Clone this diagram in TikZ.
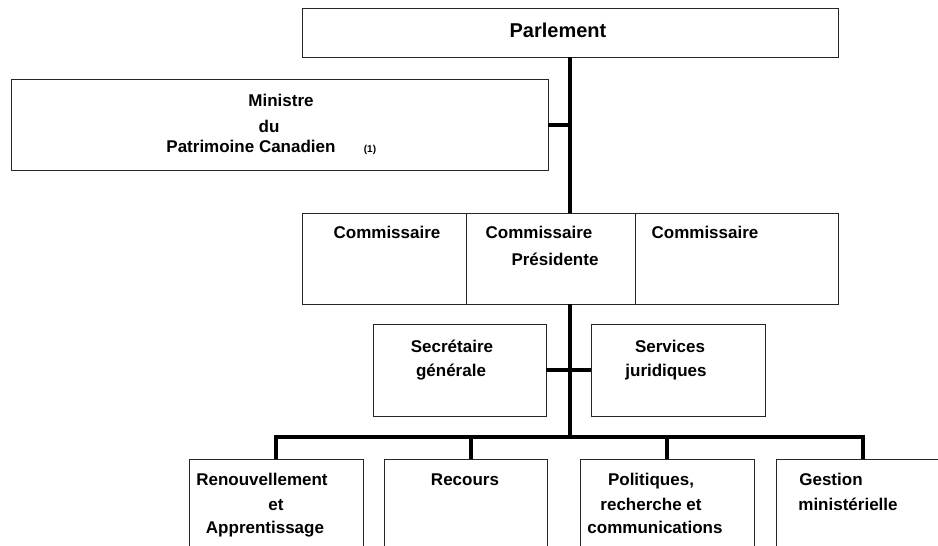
\documentclass[tikz,border=0pt]{standalone}
\usepackage{fontspec}
\setmainfont{Liberation Sans}
\begin{document}
\begin{tikzpicture}[x=1pt,y=-1pt,
  box/.style={draw=black!85, line width=1pt, inner sep=0pt, outer sep=0pt, anchor=north west},
  conn/.style={draw=black, line width=4pt},
  lbl/.style={font=\fontsize{17}{20}\selectfont\bfseries, anchor=base, inner sep=0pt},
  big/.style={font=\fontsize{20}{24}\selectfont\bfseries, anchor=base, inner sep=0pt},
  tiny/.style={font=\fontsize{10}{12}\selectfont\bfseries, anchor=base, inner sep=0pt}]
\useasboundingbox (0,0) rectangle (938,546);
\clip (0,0) rectangle (938,546);
\fill[white] (0,0) rectangle (938,546);
% boxes
\node[box, minimum width=536pt, minimum height=49pt] (parl) at (302,8) {};
\node[box, minimum width=537pt, minimum height=91pt] (min) at (11,79) {};
\node[box, minimum width=164pt, minimum height=91pt] (c1) at (302,213) {};
\node[box, minimum width=169pt, minimum height=91pt] (c2) at (466,213) {};
\node[box, minimum width=203pt, minimum height=91pt] (c3) at (635,213) {};
\node[box, minimum width=173pt, minimum height=92pt] (sec) at (373,324) {};
\node[box, minimum width=174pt, minimum height=92pt] (serv) at (591,324) {};
\node[box, minimum width=174pt, minimum height=110pt] (b1) at (189,459) {};
\node[box, minimum width=163pt, minimum height=110pt] (b2) at (384,459) {};
\node[box, minimum width=174pt, minimum height=110pt] (b3) at (580,459) {};
\node[box, minimum width=174pt, minimum height=110pt] (b4) at (776,459) {};
\coordinate (bus) at (570,437);
% connectors
\draw[conn] (parl.south) -- (parl.south |- c2.north);
\draw[conn] (min.east) -- (min.east -| parl.south);
\draw[conn] (parl.south |- c2.south) -- (bus);
\draw[conn] (sec.east) -- (serv.west);
\draw[conn] (b1.north) -- (b1.north |- bus) -- (b4.north |- bus) -- (b4.north);
\draw[conn] ([xshift=5.5pt]b2.north) -- ([xshift=5.5pt]b2.north |- bus);
\draw[conn] (b3.north) -- (b3.north |- bus);
% texts
\node[big] (tparl) at (558,37) {Parlement};
\node[lbl] (tmin1) at (281,106) {Ministre};
\node[lbl] (tmin2) at (269,132) {du};
\node[lbl] (tmin3) at (251,152) {Patrimoine Canadien};
\node[tiny] (tmin4) at (370,152) {(1)};
\node[lbl] (tc1) at (387,238) {Commissaire};
\node[lbl] (tc2a) at (539,238) {Commissaire};
\node[lbl] (tc2b) at (555,265) {Présidente};
\node[lbl] (tc3) at (705,238) {Commissaire};
\node[lbl] (tsec1) at (452,352) {Secrétaire};
\node[lbl] (tsec2) at (451,376) {générale};
\node[lbl] (tserv1) at (670,352) {Services};
\node[lbl] (tserv2) at (666,376) {juridiques};
\node[lbl] (tb1a) at (262,485) {Renouvellement};
\node[lbl] (tb1b) at (276,510) {et};
\node[lbl] (tb1c) at (265,533) {Apprentissage};
\node[lbl] (tb2) at (465,485) {Recours};
\node[lbl] (tb3a) at (651,485) {Politiques,};
\node[lbl] (tb3b) at (651,510) {recherche et};
\node[lbl] (tb3c) at (655,533) {communications};
\node[lbl] (tb4a) at (831,485) {Gestion};
\node[lbl] (tb4b) at (848,510) {ministérielle};
\end{tikzpicture}
\end{document}
